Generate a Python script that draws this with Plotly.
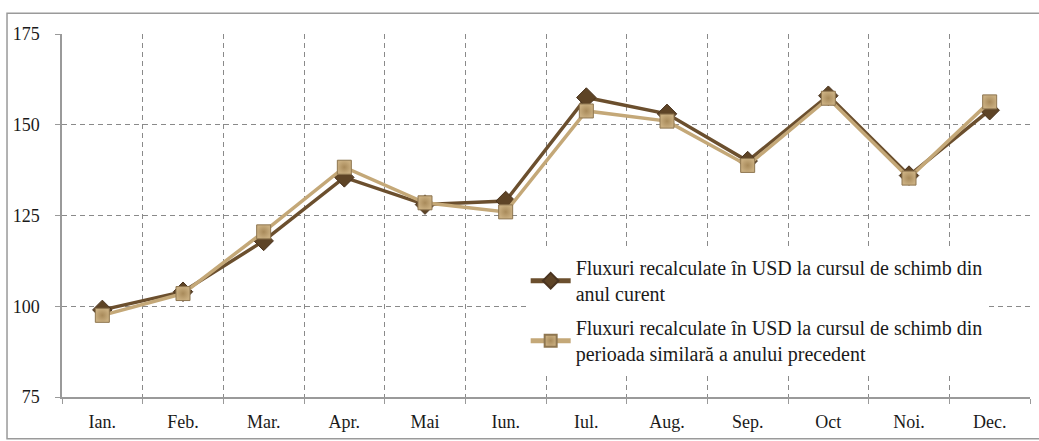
import plotly.graph_objects as go

months = ["Ian.", "Feb.", "Mar.", "Apr.", "Mai", "Iun.", "Iul.", "Aug.", "Sep.", "Oct", "Noi.", "Dec."]
curent = [99, 104, 118, 135.5, 128, 129, 157.5, 153, 140, 158, 136, 154]
precedent = [97.5, 103.5, 120.5, 138.3, 128.5, 126, 153.8, 151, 138.8, 157.3, 135.3, 156.3]
name1 = "Fluxuri recalculate în USD la cursul de schimb din<br>anul curent"
name2 = "Fluxuri recalculate în USD la cursul de schimb din<br>perioada similară a anului precedent"

SERIF = "Liberation Serif, Times New Roman, DejaVu Serif, serif"

fig = go.Figure()
fig.add_trace(go.Scatter(
    x=months, y=curent, name=name1, mode="lines+markers", legendgroup="a",
    line=dict(color="#6b4f2e", width=3.5),
    marker=dict(symbol="diamond", size=15, color="#5e4426",
                line=dict(color="#4a3420", width=1)),
))
fig.add_trace(go.Scatter(
    x=months, y=precedent, name=name2, mode="lines+markers", legendgroup="b",
    line=dict(color="#c4a878", width=3.5),
    marker=dict(symbol="square", size=14, color="#c9ae80",
                gradient=dict(type="radial", color="#a88a5a"),
                line=dict(color="#8e7650", width=1)),
))

fig.update_layout(
    width=1039, height=441,
    margin=dict(l=62, r=9, t=34, b=41),
    paper_bgcolor="white", plot_bgcolor="white",
    font=dict(family=SERIF, size=18, color="#1a1a1a"),
    showlegend=True,
    legend=dict(x=0.479, y=0.41, xanchor="left", yanchor="top",
                bgcolor="white", font=dict(family=SERIF, size=20, color="#1a1a1a"),
                itemwidth=40, tracegroupgap=5, itemsizing="constant"),
    xaxis=dict(
        range=[-0.5, 11.5],
        tickson="boundaries", showgrid=True, gridcolor="#8a8a8a", griddash="5px,4px",
        gridwidth=1, showline=True, linecolor="#9a9a9a", linewidth=1.5,
        ticks="outside", ticklen=5, tickcolor="#9a9a9a", ticklabelstandoff=8,
        tickfont=dict(family=SERIF, size=18), fixedrange=True,
    ),
    yaxis=dict(
        range=[75, 175], tickvals=[75, 100, 125, 150, 175],
        showgrid=True, gridcolor="#8a8a8a", griddash="5px,4px", gridwidth=1,
        showline=True, linecolor="#9a9a9a", linewidth=1.5, zeroline=False,
        ticks="outside", ticklen=5, tickcolor="#9a9a9a", ticklabelstandoff=12,
        tickfont=dict(family=SERIF, size=18), fixedrange=True,
    ),
    shapes=[
        dict(type="rect", xref="paper", yref="paper",
             x0=-0.0568, x1=1.027, y0=-0.115, y1=1.057,
             line=dict(color="#9a9a9a", width=1.5), layer="below"),
    ],
)

fig.write_html("out.html", config={"displayModeBar": False},
               post_script="document.body.style.margin='0';")
